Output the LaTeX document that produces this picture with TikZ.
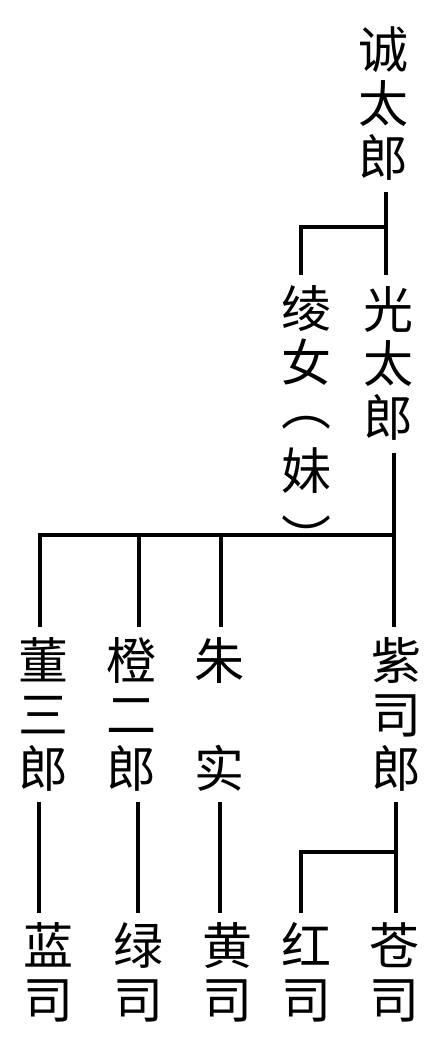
\documentclass[tikz,border=0pt]{standalone}
\usepackage{fontspec}
\newfontfamily\cjk{Noto Sans CJK SC}
\begin{document}
\begin{tikzpicture}[x=1pt,y=-1pt,
  person/.style={anchor=base,align=center,inner sep=0pt,font=\cjk\fontsize{50}{54}\selectfont},
  link/.style={line width=4pt,line join=miter}]
\useasboundingbox (0,0) rectangle (439,1048);
\fill[white] (0,0) rectangle (439,1048);
% persons
\node[person] (cheng) at (383,177) {诚\\太\\郎};
\node[person] (guang) at (388,436) {光\\太\\郎};
\node[person] (ling) at (306,543) {绫\\女\\\smash{\raisebox{10pt}{︵}}\\妹\\\smash{\raisebox{-14pt}{︶}}};
\node[person] (dong) at (43,787) {董\\三\\郎};
\node[person] (chenger) at (131,787) {橙\\二\\郎};
\node[person] (zhu) at (219,787) {朱\\~\\实};
\node[person] (zi) at (396,787) {紫\\司\\郎};
\node[person] (lan) at (48,1018) {蓝\\司};
\node[person] (lv) at (138,1018) {绿\\司};
\node[person] (huang) at (227,1018) {黄\\司};
\node[person] (hong) at (306,1018) {红\\司};
\node[person] (cang) at (394,1018) {苍\\司};
% junction coordinates
\coordinate (a1) at (386,192);
\coordinate (a2) at (386,275);
\coordinate (a3) at (386,227);
\coordinate (a4) at (301,227);
\coordinate (a5) at (301,275);
\coordinate (b1) at (394,453);
\coordinate (b2) at (394,627);
\coordinate (b3) at (394,535);
\coordinate (b4) at (40,535);
\coordinate (b5) at (40,627);
\coordinate (b6) at (139,535);
\coordinate (b7) at (139,627);
\coordinate (b8) at (221,535);
\coordinate (b9) at (221,627);
\coordinate (c1) at (39,802);
\coordinate (c2) at (39,913);
\coordinate (c3) at (138,802);
\coordinate (c4) at (138,913);
\coordinate (c5) at (220,802);
\coordinate (c6) at (220,913);
\coordinate (c7) at (396,802);
\coordinate (c8) at (396,913);
\coordinate (c9) at (396,852);
\coordinate (c10) at (301,852);
\coordinate (c11) at (301,913);
% connectors
\draw[link] (a1) -- (a2);
\draw[link] (a5) -- (a4) -- (a3);
\draw[link] (b1) -- (b2);
\draw[link] (b5) -- (b4) -- (b3);
\draw[link] (b6) -- (b7);
\draw[link] (b8) -- (b9);
\draw[link] (c1) -- (c2);
\draw[link] (c3) -- (c4);
\draw[link] (c5) -- (c6);
\draw[link] (c7) -- (c8);
\draw[link] (c11) -- (c10) -- (c9);
\end{tikzpicture}
\end{document}
